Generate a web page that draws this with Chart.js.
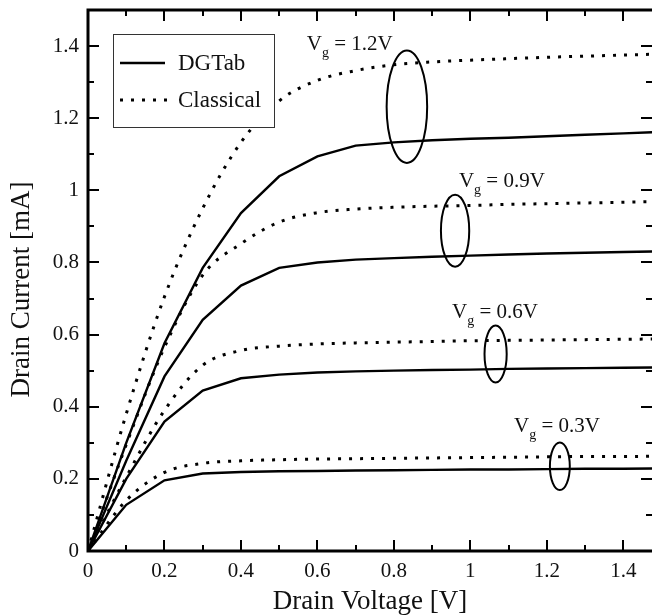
<!DOCTYPE html>
<html>
<head>
<meta charset="utf-8">
<script src="https://cdn.jsdelivr.net/npm/chart.js@4.4.0/dist/chart.umd.min.js"></script>
<style>
  html, body { margin: 0; padding: 0; background: #fff; }
  #wrap { width: 652px; height: 615px; position: relative; }
</style>
</head>
<body>
<div id="wrap"><canvas id="ivChart"></canvas></div>
<script>
// drain voltage (V) and drain current (mA)
const drainVoltage = [0, 0.1, 0.2, 0.3, 0.4, 0.5, 0.6, 0.7, 0.8, 0.9, 1.0, 1.1, 1.2, 1.3, 1.4, 1.5];

const dgtab03   = [0, 0.128, 0.196, 0.215, 0.219, 0.221, 0.222, 0.223, 0.224, 0.225, 0.226, 0.226, 0.227, 0.228, 0.228, 0.229];
const classic03 = [0, 0.14, 0.218, 0.243, 0.250, 0.253, 0.255, 0.256, 0.257, 0.258, 0.259, 0.260, 0.261, 0.262, 0.262, 0.263];
const dgtab06   = [0, 0.2, 0.359, 0.445, 0.479, 0.489, 0.495, 0.498, 0.500, 0.502, 0.503, 0.505, 0.506, 0.507, 0.508, 0.509];
const classic06 = [0, 0.205, 0.39, 0.515, 0.556, 0.568, 0.574, 0.577, 0.579, 0.581, 0.583, 0.584, 0.585, 0.586, 0.587, 0.588];
const dgtab09   = [0, 0.25, 0.484, 0.641, 0.736, 0.785, 0.800, 0.808, 0.812, 0.816, 0.819, 0.822, 0.825, 0.827, 0.829, 0.831];
const classic09 = [0, 0.295, 0.565, 0.765, 0.852, 0.912, 0.938, 0.948, 0.953, 0.956, 0.958, 0.961, 0.963, 0.965, 0.967, 0.969];
const dgtab12   = [0, 0.3, 0.576, 0.785, 0.937, 1.039, 1.094, 1.124, 1.133, 1.139, 1.143, 1.146, 1.150, 1.154, 1.158, 1.162];
const classic12 = [0, 0.38, 0.705, 0.95, 1.133, 1.248, 1.305, 1.332, 1.348, 1.356, 1.361, 1.365, 1.369, 1.372, 1.375, 1.378];

const xTickLabels = [0, 0.2, 0.4, 0.6, 0.8, 1, 1.2, 1.4];
const yTickLabels = [0, 0.2, 0.4, 0.6, 0.8, 1, 1.2, 1.4];

// gate voltage annotations (data coords)
const gateLabels = ["1.2V", "0.9V", "0.6V", "0.3V"];
const gateLabelX = [0.572, 0.970, 0.952, 1.114];
const gateLabelY = [1.39, 1.01, 0.647, 0.33];
const ringCx = [0.834, 0.960, 1.066, 1.234];
const ringCy = [1.232, 0.888, 0.546, 0.235];
const ringRx = [0.053, 0.037, 0.029, 0.026];
const ringRy = [0.156, 0.100, 0.079, 0.066];

const serif = "'Liberation Serif', 'DejaVu Serif', serif";

const toPoints = (ys) => ys.map((y, i) => ({ x: drainVoltage[i], y: y }));

const solid = (label, ys) => ({
    label: label,
    data: toPoints(ys),
    borderColor: "#000",
    borderWidth: 2.4,
    pointRadius: 0,
    tension: 0,
    fill: false,
});
const dotted = (label, ys) => ({
    label: label,
    data: toPoints(ys),
    borderColor: "#000",
    borderWidth: 3,
    borderDash: [3, 8],
    pointRadius: 0,
    cubicInterpolationMode: "monotone",
    fill: false,
});

// inward ticks + frame + y title
const frameTicks = {
    id: "frameTicks",
    afterDatasetsDraw(chart) {
        const { ctx, chartArea: a, scales } = chart;
        const x = scales.x, y = scales.y;
        ctx.save();
        ctx.strokeStyle = "#000";
        ctx.lineWidth = 2;
        ctx.beginPath();
        for (let i = 0; i <= 14; i++) {
            const len = i % 2 ? 6 : 11;
            const px = Math.round(x.getPixelForValue(i / 10));
            ctx.moveTo(px, a.bottom); ctx.lineTo(px, a.bottom - len);
            ctx.moveTo(px, a.top); ctx.lineTo(px, a.top + len);
            const py = Math.round(y.getPixelForValue(i / 10));
            ctx.moveTo(a.left, py); ctx.lineTo(a.left + len, py);
            ctx.moveTo(a.right, py); ctx.lineTo(a.right - len, py);
        }
        ctx.stroke();
        ctx.lineWidth = 3;
        ctx.beginPath();
        ctx.moveTo(a.right + 2, a.top);
        ctx.lineTo(a.left, a.top);
        ctx.lineTo(a.left, a.bottom);
        ctx.lineTo(a.right + 2, a.bottom);
        ctx.stroke();

        // vertical axis title
        ctx.translate(22, y.getPixelForValue(0.725));
        ctx.rotate(-Math.PI / 2);
        ctx.fillStyle = "#111";
        ctx.font = "27px " + serif;
        ctx.textAlign = "center";
        ctx.textBaseline = "middle";
        ctx.fillText("Drain Current [mA]", 0, 0);
        ctx.restore();
    },
};

// V_g labels and ellipses
const gateMarks = {
    id: "gateMarks",
    afterDatasetsDraw(chart) {
        const { ctx, scales } = chart;
        const x = scales.x, y = scales.y;
        ctx.save();
        ctx.fillStyle = "#111";
        ctx.strokeStyle = "#000";
        ctx.lineWidth = 2;
        ctx.textBaseline = "alphabetic";
        gateLabels.forEach((txt, i) => {
            let px = x.getPixelForValue(gateLabelX[i]);
            const py = y.getPixelForValue(gateLabelY[i]);
            ctx.font = "21px " + serif;
            ctx.fillText("V", px, py);
            px += ctx.measureText("V").width;
            ctx.font = "14px " + serif;
            ctx.fillText("g", px, py + 7);
            px += ctx.measureText("g").width;
            ctx.font = "21px " + serif;
            ctx.fillText(" = " + txt, px, py);

            const cx = x.getPixelForValue(ringCx[i]);
            const cy = y.getPixelForValue(ringCy[i]);
            const rx = Math.abs(x.getPixelForValue(ringCx[i] + ringRx[i]) - cx);
            const ry = Math.abs(y.getPixelForValue(ringCy[i] + ringRy[i]) - cy);
            ctx.beginPath();
            ctx.ellipse(cx, cy, rx, ry, 0, 0, Math.PI * 2);
            ctx.stroke();
        });
        ctx.restore();
    },
};

// legend box inside the plot
const boxLegend = {
    id: "boxLegend",
    afterDatasetsDraw(chart) {
        const { ctx, chartArea: a } = chart;
        const bx = a.left + 25, by = a.top + 24, bw = 161, bh = 93;
        ctx.save();
        ctx.fillStyle = "#fff";
        ctx.fillRect(bx, by, bw, bh);
        ctx.strokeStyle = "#333";
        ctx.lineWidth = 1;
        ctx.strokeRect(bx + 0.5, by + 0.5, bw, bh);
        ctx.strokeStyle = "#000";
        ctx.lineWidth = 2.4;
        ctx.beginPath();
        ctx.moveTo(bx + 7, by + 29); ctx.lineTo(bx + 52, by + 29);
        ctx.stroke();
        ctx.lineWidth = 3;
        ctx.setLineDash([3, 8]);
        ctx.beginPath();
        ctx.moveTo(bx + 7, by + 66); ctx.lineTo(bx + 54, by + 66);
        ctx.stroke();
        ctx.setLineDash([]);
        ctx.fillStyle = "#111";
        ctx.font = "23px " + serif;
        ctx.textBaseline = "middle";
        ctx.fillText("DGTab", bx + 65, by + 30);
        ctx.fillText("Classical", bx + 65, by + 67);
        ctx.restore();
    },
};

const noPad = (s) => { s.paddingTop = 0; s.paddingBottom = 0; s.paddingLeft = 0; s.paddingRight = 0; };

const ctx = document.getElementById("ivChart").getContext("2d");

new Chart(ctx, {
    type: "line",
    data: {
        datasets: [
            solid("DGTab 0.3", dgtab03), dotted("Classical 0.3", classic03),
            solid("DGTab 0.6", dgtab06), dotted("Classical 0.6", classic06),
            solid("DGTab 0.9", dgtab09), dotted("Classical 0.9", classic09),
            solid("DGTab 1.2", dgtab12), dotted("Classical 1.2", classic12),
        ],
    },
    options: {
        responsive: true,
        maintainAspectRatio: false,
        animation: false,
        layout: { padding: { top: 10, right: 0, left: 0, bottom: 0 } },
        plugins: { legend: { display: false }, tooltip: { enabled: false } },
        scales: {
            x: {
                type: "linear",
                min: 0,
                max: 1.475,
                afterFit: (s) => { s.height = 64; noPad(s); },
                afterBuildTicks: (s) => { s.ticks = xTickLabels.map((v) => ({ value: v })); },
                grid: { display: false, drawTicks: false },
                border: { display: false },
                ticks: {
                    padding: 8,
                    color: "#111",
                    font: { family: serif, size: 21 },
                    callback: (v) => String(+v.toFixed(1)),
                },
                title: {
                    display: true,
                    text: "Drain Voltage [V]",
                    color: "#111",
                    font: { family: serif, size: 27, lineHeight: 1 },
                    padding: 0,
                },
            },
            y: {
                type: "linear",
                min: 0,
                max: 1.5,
                afterFit: (s) => { s.width = 88; noPad(s); },
                afterBuildTicks: (s) => { s.ticks = yTickLabels.map((v) => ({ value: v })); },
                grid: { display: false, drawTicks: false },
                border: { display: false },
                ticks: {
                    padding: 9,
                    color: "#111",
                    font: { family: serif, size: 21 },
                    callback: (v) => String(+v.toFixed(1)),
                },
            },
        },
    },
    plugins: [frameTicks, gateMarks, boxLegend],
});
</script>
</body>
</html>
